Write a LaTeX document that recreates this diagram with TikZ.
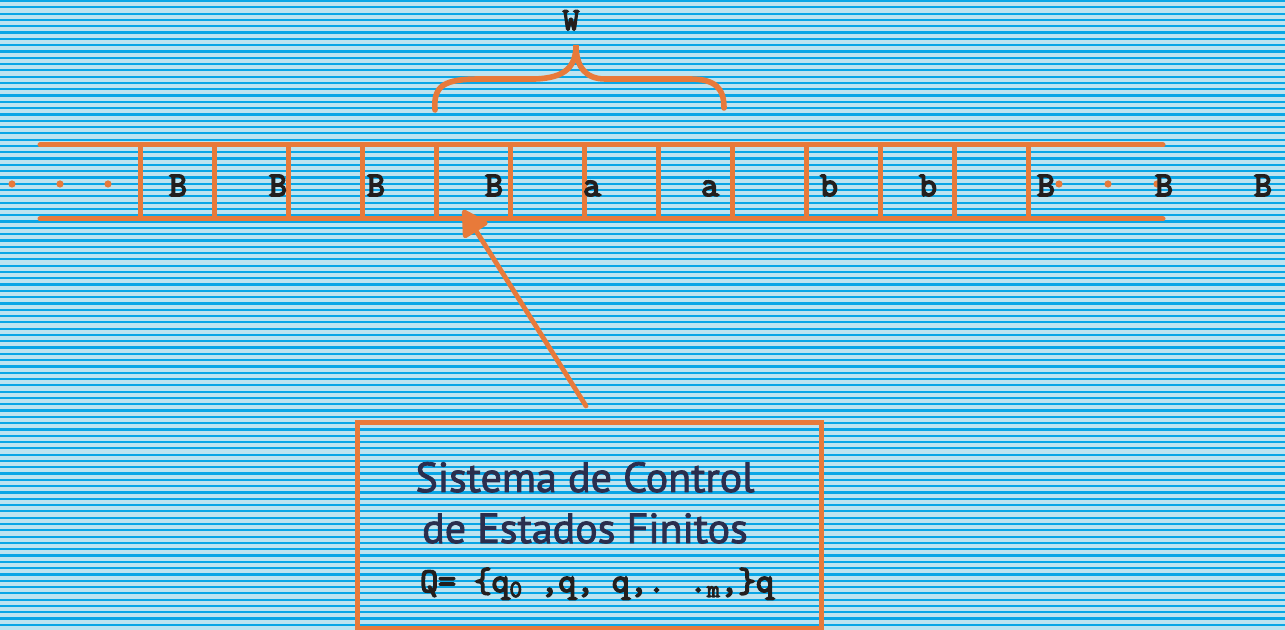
\documentclass[tikz,border=0pt]{standalone}
\usepackage{fontspec}
\newfontfamily\tapefont[FakeBold=4.5]{Latin Modern Mono}
\newfontfamily\dinfont[FakeBold=2]{PT Sans}
\usetikzlibrary{arrows.meta}

\begin{document}
\begin{tikzpicture}[x=0.75pt,y=0.75pt,yscale=-1,xscale=1,
  ink/.style={color={rgb, 255:red, 232; green, 122; blue, 58}},
  tapeline/.style={ink, line width=3.75pt, line cap=round},
  cellsep/.style={ink, line width=3.75pt},
  sym/.style={text={rgb, 255:red, 35; green, 31; blue, 30}, anchor=base, inner sep=0pt,
    font=\tapefont\fontsize{26}{28}\selectfont},
  boxline/.style={text={rgb, 255:red, 42; green, 46; blue, 78}, anchor=base, inner sep=0pt,
    font=\dinfont\fontsize{31.5}{34}\selectfont}
]
\useasboundingbox (0,0) rectangle (1285,630);

%Background with stripes
\fill [color={rgb, 255:red, 190; green, 228; blue, 240}] (0,0) rectangle (1285,630);
\foreach \i in {0,...,99}
  \fill [color={rgb, 255:red, 10; green, 166; blue, 230}] (0,{6.3*\i}) rectangle (1285,{6.3*\i+2.2});

%Tape
\draw [tapeline] (40,145) -- (1163,145) ;
\draw [tapeline] (40,219) -- (1163,219) ;
\foreach \x in {140,214,...,1028}
  \draw [cellsep] (\x,145) -- (\x,219) ;

%Blank dots
\foreach \x in {12,60,108,1059,1108,1157}
  \fill [ink] (\x,184) circle (3.6) ;

% Text Node
\foreach \x/\c [count=\k] in {178/B,278/B,376/B,494/B,592/a,710/a,829/b,928/b,1046/B,1164/B,1263/B}
  \node [sym] (s\k) at (\x,196) {\c};

%Curve Lines
\draw [tapeline, line width=4.2pt] (435,110) .. controls (433,85) and (445,79) .. (480,79) -- (535,79) .. controls (566,78) and (576,66) .. (576,45) .. controls (576,66) and (585,79) .. (605,79) -- (690,79) .. controls (715,79) and (724,88) .. (724,108) ;

% Text Node
\node [sym, font=\tapefont\fontsize{24}{26}\selectfont] (word) at (571,30) {W};

%Shape: Rectangle
\node [draw, ink, line width=3.75pt, minimum width=348pt, minimum height=153.75pt, inner sep=0pt] (ctrl) at (589,525.5) {};

% Text Node
\node [boxline] (line1) at (585,492) {Sistema de Control};
\node [boxline] (line2) at (585,543) {de Estados Finitos};
\node [sym, anchor=base west] (line3) at (420,592) {Q= \{q\textsubscript{0} ,q, q,. .\textsubscript{m},\}q};

%Straight Lines
\coordinate (tail) at (586,406) ;
\coordinate (head) at (463,210) ;
\draw [tapeline, line width=3.6pt, -{Triangle[length=21pt,width=23pt,round]}] (tail) -- (head) ;

\end{tikzpicture}
\end{document}
